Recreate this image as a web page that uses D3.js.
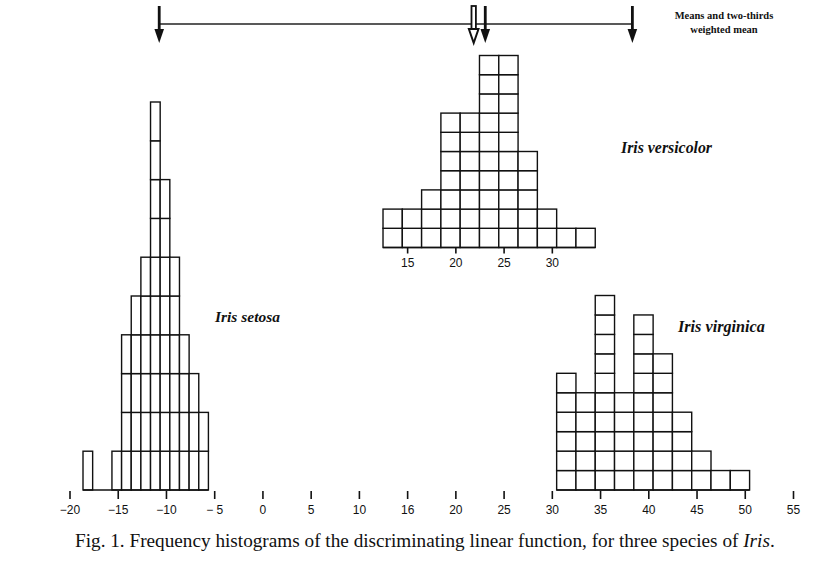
<!DOCTYPE html>
<html>
<head>
<meta charset="utf-8">
<script src="https://cdn.jsdelivr.net/npm/d3@7"></script>
<style>
  html, body { margin: 0; padding: 0; background: #fff; }
  svg { display: block; }
</style>
</head>
<body>
<script>
// ---------- data ----------
const axisTickValues = [-20, -15, -10, -5, 0, 5, 10, 15, 20, 25, 30, 35, 40, 45, 50, 55];
const axisTickLabels = ["\u221220", "\u221215", "\u221210", "\u2212 5", "0", "5", "10", "16", "20", "25", "30", "35", "40", "45", "50", "55"];

// Iris setosa: unit-wide bins (drawn with doubled height)
const setosaStart = -18.6;
const setosaWidth = 1;
const setosaCounts = [1, 0, 0, 1, 4, 5, 6, 10, 8, 6, 4, 3, 2];

// Iris versicolor: two-unit bins, raised histogram with its own axis
const versicolorStart = 12.5;
const versicolorWidth = 2;
const versicolorCounts = [2, 2, 3, 7, 7, 10, 10, 5, 2, 1, 1];
const versicolorTicks = [15, 20, 25, 30];

// Iris virginica: two-unit bins
const virginicaStart = 30.5;
const virginicaWidth = 2;
const virginicaCounts = [6, 5, 10, 5, 9, 7, 4, 2, 1, 1];

// Means (arrows) and two-thirds weighted mean
const meanValues = [-10.7, 21.9, 23.1, 38.35];
const meanKinds = ["solid", "hollow", "solid", "solid"];

const speciesLabels = ["Iris setosa", "Iris versicolor", "Iris virginica"];
const legendLines = ["Means and two-thirds", "weighted mean"];
const captionParts = ["Fig. 1.  Frequency histograms of the discriminating linear function, for three species of ", "Iris", "."];

// ---------- drawing ----------
const W = 832, H = 566;
const svg = d3.select("body").append("svg").attr("width", W).attr("height", H);

const x = d3.scaleLinear().domain([-20, 55]).range([69.5, 793]);

const yMain2 = d3.scaleLinear().domain([0, 10]).range([490, 295.5]);   // two-unit bins
const ySetosa = d3.scaleLinear().domain([0, 10]).range([490, 102]);    // unit bins, doubled height
const yVers = d3.scaleLinear().domain([0, 10]).range([247.5, 55.5]);

function cells(start, width, counts) {
  const out = [];
  counts.forEach((c, i) => {
    for (let k = 0; k < c; k++) out.push({ x0: start + i * width, x1: start + (i + 1) * width, k });
  });
  return out;
}

function drawHist(g, start, width, counts, y) {
  const data = cells(start, width, counts);
  g.selectAll("rect").data(data).join("rect")
    .attr("x", d => x(d.x0))
    .attr("width", d => x(d.x1) - x(d.x0))
    .attr("y", d => y(d.k + 1))
    .attr("height", d => y(d.k) - y(d.k + 1))
    .attr("fill", "#fff")
    .attr("stroke", "#111")
    .attr("stroke-width", 1.4);
  // continuous baseline under the histogram
  g.append("line")
    .attr("x1", x(start)).attr("x2", x(start + counts.length * width))
    .attr("y1", y(0)).attr("y2", y(0))
    .attr("stroke", "#111").attr("stroke-width", 1.6);
}

drawHist(svg.append("g"), setosaStart, setosaWidth, setosaCounts, ySetosa);
drawHist(svg.append("g"), versicolorStart, versicolorWidth, versicolorCounts, yVers);
drawHist(svg.append("g"), virginicaStart, virginicaWidth, virginicaCounts, yMain2);

// main axis: ticks only, no line
const mainAxis = d3.axisBottom(x)
  .tickValues(axisTickValues)
  .tickFormat((d, i) => axisTickLabels[i])
  .tickSize(8)
  .tickPadding(6);
const gAxis = svg.append("g").attr("transform", "translate(0,491)").call(mainAxis);
gAxis.select(".domain").remove();
gAxis.selectAll(".tick line").attr("stroke", "#111").attr("stroke-width", 1.6);
gAxis.selectAll(".tick text")
  .attr("fill", "#111")
  .style("font-family", "'Liberation Sans', Arial, sans-serif")
  .style("font-size", "12px");

// versicolor axis
const versAxis = d3.axisBottom(x).tickValues(versicolorTicks).tickSize(6).tickPadding(5);
const gV = svg.append("g").attr("transform", "translate(0,247.5)").call(versAxis);
gV.select(".domain").remove();
gV.selectAll(".tick line").attr("stroke", "#111").attr("stroke-width", 1.6);
gV.selectAll(".tick text")
  .attr("fill", "#111")
  .style("font-family", "'Liberation Sans', Arial, sans-serif")
  .style("font-size", "12px");

// means line and arrows
const lineY = 24;
svg.append("line")
  .attr("x1", x(d3.min(meanValues))).attr("x2", x(d3.max(meanValues)))
  .attr("y1", lineY).attr("y2", lineY)
  .attr("stroke", "#222").attr("stroke-width", 1.3);

const arrowTop = 6, headTop = 29, arrowBottom = 43, headHalf = 4.8;
meanValues.forEach((v, i) => {
  const cx = x(v);
  const g = svg.append("g");
  if (meanKinds[i] === "solid") {
    g.append("rect").attr("x", cx - 1.4).attr("y", arrowTop).attr("width", 2.8).attr("height", headTop - arrowTop + 1).attr("fill", "#111");
    g.append("path")
      .attr("d", `M${cx - headHalf},${headTop} L${cx + headHalf},${headTop} L${cx},${arrowBottom} Z`)
      .attr("fill", "#111");
  } else {
    g.append("rect").attr("x", cx - 2.2).attr("y", arrowTop).attr("width", 4.4).attr("height", headTop - arrowTop)
      .attr("fill", "#fff").attr("stroke", "#111").attr("stroke-width", 1.8);
    g.append("path")
      .attr("d", `M${cx - headHalf},${headTop} L${cx + headHalf},${headTop} L${cx},${arrowBottom} Z`)
      .attr("fill", "#fff").attr("stroke", "#111").attr("stroke-width", 2).attr("stroke-linejoin", "miter");
  }
});

// legend text
const serif = "'Liberation Serif', 'Times New Roman', serif";
svg.selectAll("text.legend").data(legendLines).join("text")
  .attr("class", "legend")
  .attr("x", 724).attr("y", (d, i) => 18.5 + i * 14)
  .attr("text-anchor", "middle")
  .style("font-family", serif).style("font-weight", "bold").style("font-size", "10.5px")
  .attr("fill", "#111")
  .text(d => d);

// species labels
const labelPos = [[215, 322], [621, 153], [678, 332]];
const labelWidths = [65, 91, 87];
speciesLabels.forEach((t, i) => {
  const el = svg.append("text")
    .attr("x", labelPos[i][0]).attr("y", labelPos[i][1])
    .style("font-family", serif).style("font-weight", "bold").style("font-style", "italic")
    .style("font-size", "13px").attr("fill", "#111")
    .text(t);
  const w = el.node().getComputedTextLength();
  el.style("font-size", (13 * labelWidths[i] / w).toFixed(2) + "px");
});

// caption
const cap = svg.append("text").attr("x", 75).attr("y", 547)
  .style("font-family", serif).style("font-size", "15px").attr("fill", "#111");
captionParts.forEach((p, i) => {
  cap.append("tspan").style("font-style", i === 1 ? "italic" : "normal").text(p);
});
const cw = cap.node().getComputedTextLength();
cap.style("font-size", (15 * 700 / cw).toFixed(2) + "px");
</script>
</body>
</html>
